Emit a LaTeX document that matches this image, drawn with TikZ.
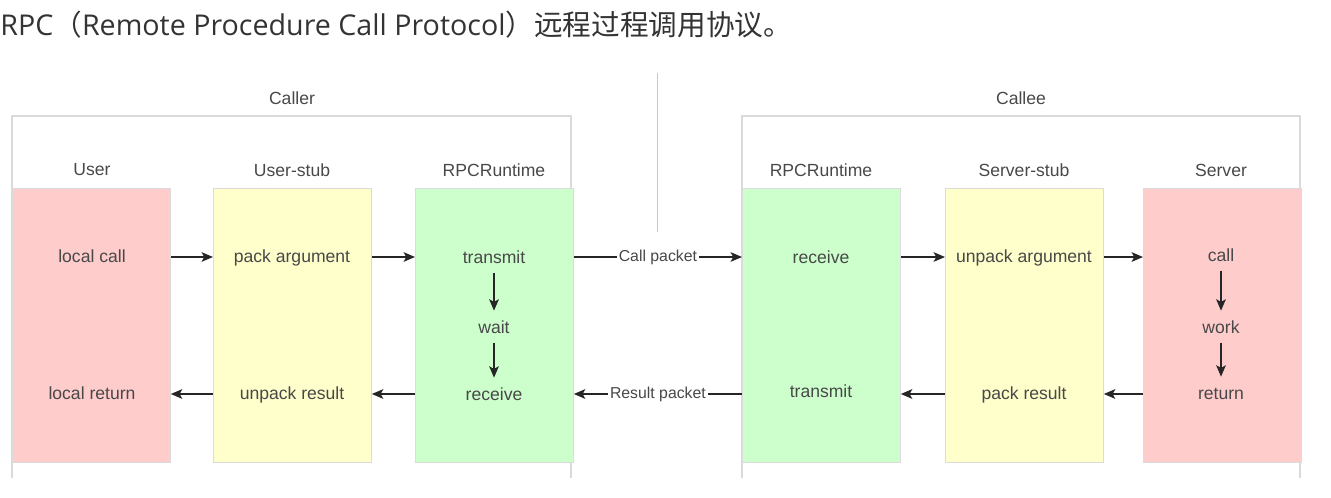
\documentclass[tikz,border=0pt]{standalone}
\usepackage{fontspec}
\setmainfont{Liberation Sans}
\newfontfamily\titlefont{Open Sans}
\newfontfamily\cjkfont{Noto Sans CJK SC}
\usetikzlibrary{arrows.meta,positioning}
\definecolor{boxred}{RGB}{255,204,204}
\definecolor{boxyellow}{RGB}{255,255,204}
\definecolor{boxgreen}{RGB}{204,255,204}
\definecolor{framegray}{RGB}{218,218,218}
\definecolor{dividergray}{RGB}{200,200,200}
\definecolor{titlegray}{RGB}{51,51,51}
\definecolor{txtgray}{RGB}{72,72,72}

\begin{document}
\begin{tikzpicture}[x=0.02cm,y=-0.02cm,>=Stealth,
  font=\fontsize{10}{12}\selectfont,
  colbox/.style={draw=black!14,line width=0.5pt,anchor=north west,
    minimum width=3.16cm,minimum height=5.48cm,inner sep=0pt},
  headtext/.style={text=txtgray},
  steptext/.style={text=txtgray,text height=1.5ex,text depth=0.25ex},
  packettext/.style={fill=white,inner sep=1pt,text=txtgray,
    font=\fontsize{9}{11}\selectfont},
  flow/.style={->,black!85,line width=0.8pt,
    >={Stealth[length=6.5pt,width=5.5pt,inset=1.5pt]}},
  downflow/.style={flow,shorten <=0.3pt,shorten >=1.7pt}]

\useasboundingbox (0,0) rectangle (1331,497);

%% ── title ────────────────────────────────────────────────────────────────────
\node[anchor=base west,inner sep=0pt,text=titlegray,
  font=\fontsize{16.3}{19}\selectfont] (title) at (0,35)
  {\titlefont RPC\cjkfont （\titlefont Remote Procedure Call Protocol\cjkfont ）远程过程调用协议。};

%% ── divider between the two sides ────────────────────────────────────────────
\draw[dividergray,line width=0.5pt] (657,73) -- (657,232);

%% ════════════════════════════════════════════════════════════════════════════
%%  LEFT SIDE — Caller
%% ════════════════════════════════════════════════════════════════════════════
\draw[framegray,line width=0.6pt] (12,478) |- (571,116) -- (571,478);
\node[headtext] (caller) at (292,98) {Caller};

\node[headtext] (userhead)  at (92,170)  {User};
\node[headtext] (ustubhead) at (292,170) {User-stub};
\node[headtext] (crpchead)  at (494,170) {RPCRuntime};

\node[colbox,fill=boxred]    (user)  at (12,188)  {};
\node[colbox,fill=boxyellow] (ustub) at (213,188) {};
\node[colbox,fill=boxgreen]  (crpc)  at (415,188) {};

\node[steptext] (lcall)     at (92,257)  {local call};
\node[steptext] (lreturn)   at (92,394)  {local return};
\node[steptext] (parg)      at (292,257) {pack argument};
\node[steptext] (uresult)   at (292,394) {unpack result};
\node[steptext] (ctransmit) at (494,258) {transmit};
\node[steptext] (cwait)     at (494,328) {wait};
\node[steptext] (creceive)  at (494,395) {receive};

%% call direction
\draw[flow] (user.east |- lcall) -- (ustub.west |- parg);
\draw[flow] (ustub.east |- parg) -- (crpc.west |- parg);
\draw[downflow] (ctransmit) -- (cwait);
\draw[downflow] (cwait) -- (creceive);

%% return direction
\draw[flow] (crpc.west |- uresult) -- (ustub.east |- uresult);
\draw[flow] (ustub.west |- uresult) -- (user.east |- lreturn);

%% ════════════════════════════════════════════════════════════════════════════
%%  RIGHT SIDE — Callee
%% ════════════════════════════════════════════════════════════════════════════
\draw[framegray,line width=0.6pt] (742,478) |- (1300,116) -- (1300,478);
\node[headtext] (callee) at (1021,98) {Callee};

\node[headtext] (erpchead)   at (821,170)  {RPCRuntime};
\node[headtext] (sstubhead)  at (1024,170) {Server-stub};
\node[headtext] (serverhead) at (1221,170) {Server};

\node[colbox,fill=boxgreen]  (erpc)   at (742,188)  {};
\node[colbox,fill=boxyellow] (sstub)  at (945,188)  {};
\node[colbox,fill=boxred]    (server) at (1143,188) {};

\node[steptext] (ereceive)  at (821,258)  {receive};
\node[steptext] (etransmit) at (821,392)  {transmit};
\node[steptext] (uarg)      at (1024,257) {unpack argument};
\node[steptext] (presult)   at (1024,394) {pack result};
\node[steptext] (scall)     at (1221,256) {call};
\node[steptext] (swork)     at (1221,328) {work};
\node[steptext] (sreturn)   at (1221,394) {return};

%% call direction
\draw[flow] (erpc.east |- uarg) -- (sstub.west |- uarg);
\draw[flow] (sstub.east |- uarg) -- (server.west |- uarg);
\draw[downflow] (scall) -- (swork);
\draw[downflow] (swork) -- (sreturn);

%% return direction
\draw[flow] (server.west |- presult) -- (sstub.east |- presult);
\draw[flow] (sstub.west |- presult) -- (erpc.east |- presult);

%% ── packets across the network ───────────────────────────────────────────────
\draw[flow] (crpc.east |- parg) -- node[packettext] (callpkt) {Call packet}
  (erpc.west |- parg);
\draw[flow] (erpc.west |- presult) -- node[packettext] (resultpkt) {Result packet}
  (crpc.east |- presult);

\end{tikzpicture}
\end{document}
